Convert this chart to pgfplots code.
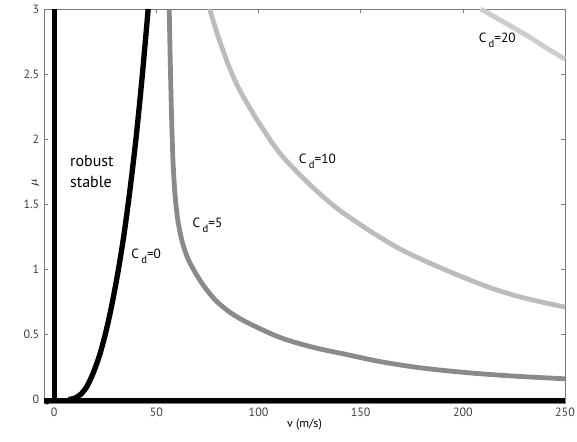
\documentclass[border=0pt]{standalone}
\usepackage{fontspec}
\setmainfont{PT Sans}
\usepackage{pgfplots}
\pgfplotsset{compat=1.18}

\definecolor{cdfive}{HTML}{8A8A8A}
\definecolor{cdten}{HTML}{BCBCBC}
\definecolor{cdtwenty}{HTML}{CDCDCD}
\definecolor{frame}{HTML}{7A7A7A}

\newcommand{\cd}[1]{C\,\raisebox{-0.7ex}{\footnotesize d}=#1}

\begin{document}
\begin{tikzpicture}
\begin{axis}[
    scale only axis,
    width=391pt, height=296pt,
    xmin=-5, xmax=250,
    ymin=-0.03, ymax=3,
    xtick={0,50,...,250},
    ytick={0,0.5,...,3},
    tick align=inside,
    major tick length=3pt,
    axis line style={frame, line width=0.6pt},
    tick style={frame, line width=0.5pt},
    /pgf/number format/assume math mode=true,
    ticklabel style={font=\fontsize{9}{10}\selectfont, text=black!75},
    xlabel={v (m/s)},
    ylabel={$\mu$},
    xlabel shift=-5pt,
    ylabel shift=-3pt,
    ylabel style={at={(ticklabel* cs:0.56)}},
    label style={font=\fontsize{9}{10}\selectfont},
    clip=false,
]

% stability boundary lines
\addplot[black, line width=4pt] coordinates {(0,-0.02) (0,3)};
\addplot[black, line width=3.8pt] coordinates {(-5,-0.01) (250,-0.01)};
\addplot[black, only marks, mark=*, mark size=2pt] coordinates {(-3.5,-0.015)};

% Cd = 0
\addplot[black, line width=4pt, smooth] coordinates {
    (7,0) (10,0.01) (13,0.04) (16,0.10) (19,0.20) (22,0.33) (25,0.50)
    (28,0.71) (31,0.96) (34,1.25) (37,1.60) (40,2.00) (43,2.47) (46,3.0)
};

% Cd = 5
\addplot[cdfive, line width=3.6pt, smooth] coordinates {
    (56.3,3.0) (56.8,2.6) (57.4,2.2) (58.1,1.85) (59.0,1.6) (60.3,1.40)
    (62.2,1.24) (64.5,1.12) (67.1,1.03) (72,0.90) (78.5,0.77) (86,0.67)
    (94.7,0.59) (110.8,0.475) (127,0.40) (143,0.346) (160,0.29)
    (180,0.242) (203,0.205) (225,0.180) (250,0.159)
};

% Cd = 10
\addplot[cdten, line width=3.6pt, smooth] coordinates {
    (76.1,3.0) (80,2.80) (85,2.58) (90,2.40) (95,2.26) (100,2.13)
    (110,1.90) (120,1.73) (130,1.58) (140,1.45) (155,1.29) (170,1.15)
    (185,1.04) (200,0.94) (215,0.85) (230,0.78) (250,0.71)
};

% Cd = 20
\addplot[cdtwenty, line width=3.6pt, smooth] coordinates {
    (208.7,3.0) (220,2.90) (232,2.79) (241,2.70) (250,2.615)
};

\node[anchor=west, font=\fontsize{12}{13}\selectfont] at (axis cs:5.5,1.83) {robust};
\node[anchor=west, font=\fontsize{12}{13}\selectfont] at (axis cs:5.5,1.67) {stable};
\node[anchor=west, font=\fontsize{10}{11}\selectfont] at (axis cs:35.5,1.10) {\cd{0}};
\node[anchor=west, font=\fontsize{10}{11}\selectfont] at (axis cs:65.5,1.34) {\cd{5}};
\node[anchor=west, font=\fontsize{10}{11}\selectfont] at (axis cs:117.5,1.83) {\cd{10}};
\node[anchor=west, font=\fontsize{10}{11}\selectfont] at (axis cs:205.5,2.76) {\cd{20}};
\end{axis}
\pgfresetboundingbox
\path ([xshift=-33pt,yshift=-28.5pt]current axis.south west)
    rectangle ([xshift=9pt,yshift=6.75pt]current axis.north east);
\end{tikzpicture}
\end{document}
